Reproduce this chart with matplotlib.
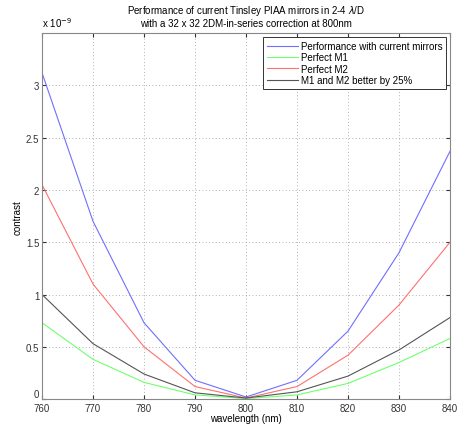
import matplotlib
matplotlib.use("Agg")
from matplotlib import pyplot as plt

# 数据
wavelength = [760, 770, 780, 790, 800, 810, 820, 830, 840]
current = [3.12, 1.70, 0.73, 0.18, 0.02, 0.18, 0.65, 1.40, 2.37]
perfect_m1 = [0.73, 0.38, 0.16, 0.04, 0.005, 0.04, 0.15, 0.35, 0.58]
perfect_m2 = [2.05, 1.10, 0.50, 0.12, 0.01, 0.12, 0.42, 0.90, 1.50]
better25 = [1.00, 0.53, 0.24, 0.06, 0.01, 0.07, 0.22, 0.47, 0.78]

plt.rcParams['font.family'] = ['Liberation Sans', 'DejaVu Sans']
plt.rcParams['font.size'] = 7

fig = plt.figure(figsize=(4.62, 4.27), dpi=100)
ax = fig.add_axes([0.091, 0.063, 0.883, 0.857])

ax.plot(wavelength, current, color='#6f6fff', lw=0.8, label='Performance with current mirrors')
ax.plot(wavelength, perfect_m1, color='#6fff6f', lw=0.8, label='Perfect M1')
ax.plot(wavelength, perfect_m2, color='#ff7070', lw=0.8, label='Perfect M2')
ax.plot(wavelength, better25, color='#555555', lw=0.8, label='M1 and M2 better by 25%')

ax.set_xlim(760, 840)
ax.set_ylim(0, 3.5)
ax.set_xticks(range(760, 841, 10))
ax.set_yticks([0, 0.5, 1, 1.5, 2, 2.5, 3])
ax.set_yticklabels(['0', '0.5', '1', '1.5', '2', '2.5', '3'])
ax.get_yticklabels()[0].set_va('bottom')
ax.grid(True, linestyle=(0, (1, 3)), color='#999999', lw=0.6)
ax.tick_params(direction='in', length=3, top=True, right=True, colors='#333333', labelsize=7)
ax.tick_params(axis='x', pad=3)
ax.tick_params(axis='y', pad=2)
for s in ax.spines.values():
    s.set_color('#888888')

ax.text(0, 1.012, r'x 10$^{-9}$', transform=ax.transAxes, ha='left', va='bottom', fontsize=7)

ax.set_xlabel('wavelength (nm)', labelpad=0)
ax.set_ylabel('contrast', labelpad=2)
ax.set_title('Performance of current Tinsley PIAA mirrors in 2-4 $\\lambda$/D\nwith a 32 x 32 2DM-in-series correction at 800nm',
             fontsize=7, pad=5, linespacing=1.1)

leg = ax.legend(loc='upper right', fontsize=7, fancybox=False, framealpha=1,
                edgecolor='#333333', handlelength=3.2, borderaxespad=0.4,
                labelspacing=0.15, handletextpad=0.3)
leg.get_frame().set_linewidth(0.7)

plt.savefig("out.png", dpi=100)
